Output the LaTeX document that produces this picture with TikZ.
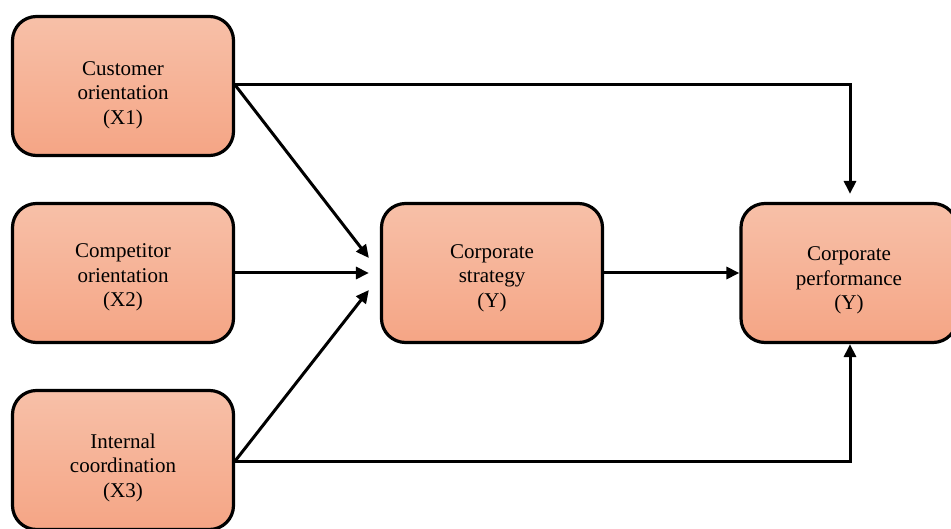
\documentclass[tikz,border=0pt]{standalone}
\usepackage{fontspec}
\setmainfont{Liberation Serif}
\usetikzlibrary{arrows.meta,calc}
\definecolor{boxtop}{RGB}{247,192,168}
\definecolor{boxbot}{RGB}{245,165,133}
\newcommand\lowr[1]{\rule{0pt}{#1pt}}
\tikzset{
  varbox/.style={draw=black, line width=3.2pt, rounded corners=24pt,
    top color=boxtop, bottom color=boxbot, minimum width=221pt, minimum height=139pt,
    align=center, inner sep=0pt, font=\fontsize{21}{24.5}\selectfont},
  conn/.style={line width=3pt, -{Triangle[length=13pt,width=12pt]}}
}
\begin{document}
\begin{tikzpicture}[x=1pt,y=-1pt]
\useasboundingbox (0,0) rectangle (951,529);
\node[varbox] (x1) at (123,86) {\lowr{32}Customer\\orientation\\(X1)};
\node[varbox] (x2) at (123,273) {\lowr{23}Competitor\\orientation\\(X2)};
\node[varbox] (x3) at (123,460) {\lowr{30}Internal\\coordination\\(X3)};
\node[varbox] (cs) at (492,273) {\lowr{24}Corporate\\strategy\\(Y)};
\node[varbox, minimum width=216pt] (cp) at (849,273) {\lowr{29}Corporate\\performance\\(Y)};
\coordinate (e1) at ($(x1.east)+(0,-1)$);
\coordinate (e3) at ($(x3.east)+(0,1)$);
\coordinate (t1) at ($(cs.west)+(-11,-15)$);
\coordinate (t2) at ($(cs.west)+(-11,0)$);
\coordinate (t3) at ($(cs.west)+(-11,17)$);
\coordinate (ctop) at ($(cp.north)+(1,-8)$);
\coordinate (cbot) at ($(cp.south)+(1,0)$);
\draw[conn] (e1) -- (t1);
\draw[conn] (x2.east) -- (t2);
\draw[conn] (e3) -- (t3);
\draw[conn] (cs.east) -- (cp.west);
\draw[conn] (e1) -| (ctop);
\draw[conn] (e3) -| (cbot);
\end{tikzpicture}
\end{document}
